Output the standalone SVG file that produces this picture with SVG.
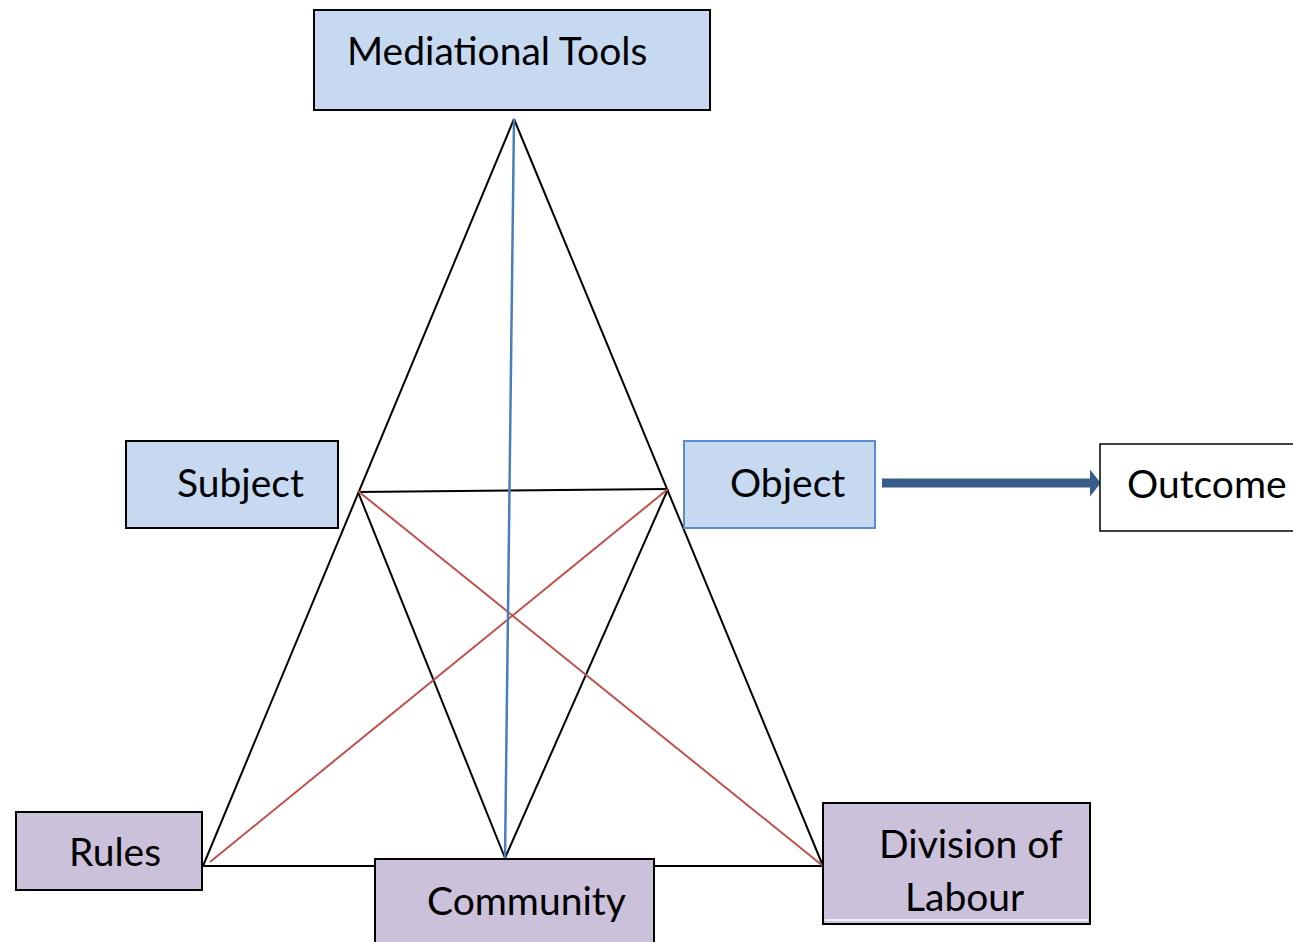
<svg xmlns="http://www.w3.org/2000/svg" width="1293" height="942" viewBox="0 0 1293 942">
<style>
.t{font-family:Lato,"Open Sans","Liberation Sans",sans-serif;font-size:39px;fill:#000}
.blue{fill:#c6d9f1;stroke:#000;stroke-width:2}
.purple{fill:#ccc1da;stroke:#000;stroke-width:2}
.k{stroke:#000;stroke-width:2;fill:none}
.r{stroke:#c0504d;stroke-width:2;fill:none}
.b{stroke:#4a7ebb;stroke-width:2.5;fill:none}
</style>
<defs>
<marker id="ah" viewBox="0 0 4 10" refX="0" refY="5" markerWidth="1.25" markerHeight="3" orient="auto" markerUnits="strokeWidth">
<path d="M0,0 L4,5 L0,10 z" fill="#385d8a"/>
</marker>
</defs>
<rect width="1293" height="942" fill="#fff"/>
<g id="connectors">
<line class="k" x1="514" y1="119" x2="203" y2="866"/>
<line class="k" x1="514" y1="119" x2="823" y2="866"/>
<line class="k" x1="203" y1="866" x2="823" y2="866"/>
<line class="k" x1="358" y1="492" x2="668" y2="489"/>
<line class="k" x1="358" y1="492" x2="505" y2="858"/>
<line class="k" x1="668" y1="489" x2="505" y2="858"/>
<line class="r" x1="358" y1="491" x2="823" y2="866"/>
<line class="r" x1="668" y1="489" x2="210" y2="862"/>
<line class="b" x1="514" y1="119" x2="505" y2="858"/>
<line x1="882" y1="483" x2="1090" y2="483" stroke="#385d8a" stroke-width="9" marker-end="url(#ah)"/>
</g>
<g id="mediational-tools">
<rect class="blue" x="314" y="10" width="396" height="100"/>
<text class="t" x="347" y="65">Mediational Tools</text>
</g>
<g id="subject">
<rect class="blue" x="126" y="441" width="212" height="87"/>
<text class="t" x="177" y="497">Subject</text>
</g>
<g id="object">
<rect x="684" y="441" width="191" height="87" fill="#c6d9f1" stroke="#5b8ccb" stroke-width="2"/>
<text class="t" x="730" y="497">Object</text>
</g>
<g id="outcome">
<rect x="1100" y="444" width="200" height="87" fill="#fff" stroke="#000" stroke-width="1.5"/>
<text class="t" x="1127" y="498">Outcome</text>
</g>
<g id="rules">
<rect class="purple" x="16" y="812" width="186" height="78"/>
<text class="t" x="69" y="866">Rules</text>
</g>
<g id="community">
<rect class="purple" x="375" y="859" width="279" height="90"/>
<text class="t" x="427" y="915">Community</text>
</g>
<g id="division-of-labour">
<rect class="purple" x="823" y="803" width="267" height="121"/>
<line x1="825" y1="920" x2="1088" y2="920" stroke="#fff" stroke-width="1.5"/>
<text class="t" x="879" y="858">Division of</text>
<text class="t" x="905" y="911">Labour</text>
</g>
</svg>
